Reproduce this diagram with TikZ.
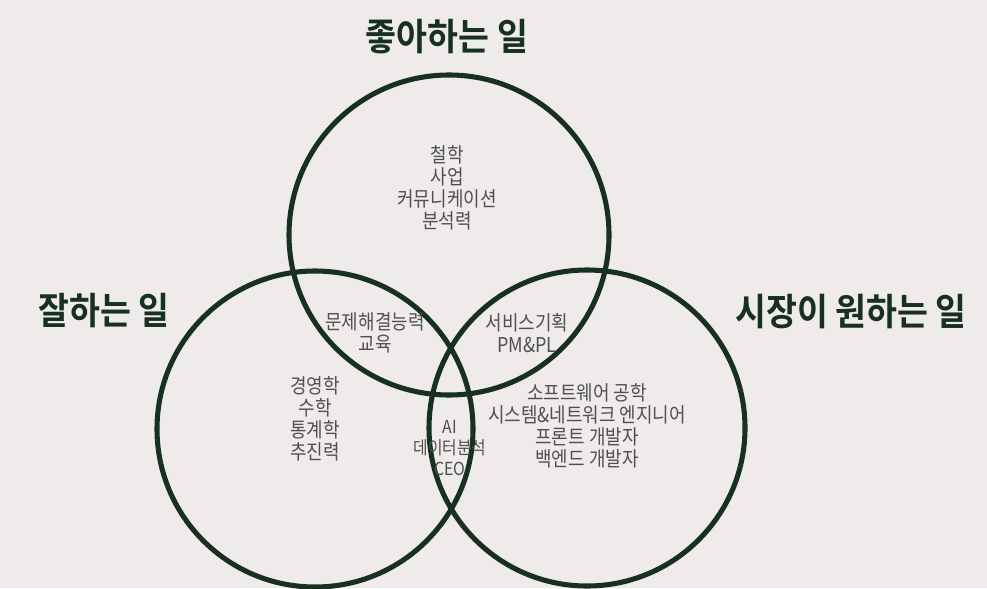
\documentclass[tikz,border=0pt]{standalone}
\usepackage{fontspec}
\newfontfamily\kr[FakeStretch=0.88]{Noto Sans CJK KR}
\newfontfamily\krb[FakeStretch=0.9]{Noto Sans CJK KR Bold}
\definecolor{bg}{HTML}{EEEBEA}
\definecolor{ring}{HTML}{17301F}
\definecolor{txt}{HTML}{505050}
\begin{document}
\begin{tikzpicture}[x=0.75pt,y=-0.75pt,
  ringc/.style={circle,draw=ring,line width=3.8pt,minimum size=237pt,inner sep=0pt},
  title/.style={text=ring,font=\krb\fontsize{28pt}{32pt}\selectfont,inner sep=0pt},
  item/.style={text=txt,font=\kr\fontsize{15.3pt}{16.5pt}\selectfont,align=center,inner sep=0pt},
  small/.style={text=txt,font=\kr\fontsize{13.5pt}{15.8pt}\selectfont,align=center,inner sep=0pt}]
\fill[bg] (0,0) rectangle (987,588);
\useasboundingbox (0,0) rectangle (987,588);
\node[ringc,minimum size=240pt] (top) at (449,235) {};
\node[ringc] (left) at (315,429) {};
\node[ringc] (right) at (587,428) {};
\node[title] (tlike) at (447,37) {좋아하는 일};
\node[title] (tgood) at (104,311) {잘하는 일};
\node[title] (tmarket) at (851,312) {시장이 원하는 일};
\node[item] (ilike) at (447,188) {철학\\사업\\커뮤니케이션\\분석력};
\node[item] (ilg) at (375,333) {문제해결능력\\교육};
\node[item] (ilm) at (527,333) {서비스기획\\PM\&PL};
\node[item] (igood) at (315,419) {경영학\\수학\\통계학\\추진력};
\node[small] (iall) at (450,448) {AI\\데이터분석\\CEO};
\node[item] (imarket) at (587,426) {소프트웨어 공학\\시스템\&네트워크 엔지니어\\프론트 개발자\\백엔드 개발자};
\end{tikzpicture}
\end{document}
